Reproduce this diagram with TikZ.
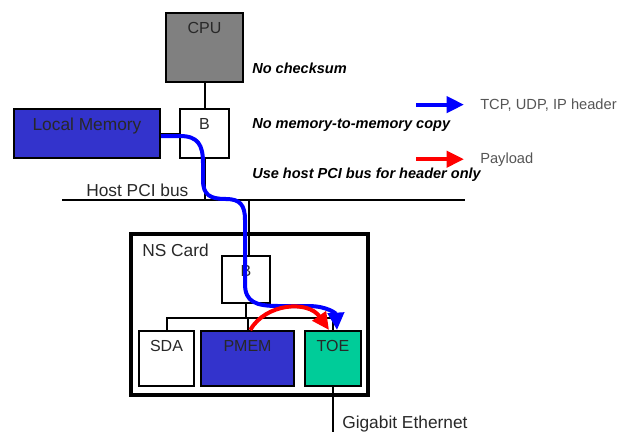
\documentclass[tikz,border=0pt]{standalone}
\usepackage{fontspec}
\setmainfont{Liberation Sans}
\usetikzlibrary{arrows.meta}
\definecolor{gris}{RGB}{128,128,128}
\definecolor{azul}{RGB}{51,51,204}
\definecolor{verde}{RGB}{0,204,153}
\definecolor{tinta}{RGB}{40,40,40}
\definecolor{leyenda}{RGB}{85,85,85}
\tikzset{
  caja/.style={draw=black, line width=1.5pt, inner sep=0pt},
  tit/.style={anchor=north, inner sep=0pt, yshift=-7.5pt, text=tinta, font=\fontsize{12}{14}\selectfont},
  cable/.style={line width=1.5pt},
  nota/.style={anchor=base west, inner sep=0pt, font=\fontsize{10.9}{12}\selectfont\bfseries\itshape},
  etq/.style={anchor=base west, inner sep=0pt, text=tinta, font=\fontsize{13}{15}\selectfont},
  ley/.style={anchor=base west, inner sep=0pt, text=leyenda, font=\fontsize{11}{13}\selectfont},
  cab/.style={-{Triangle[length=13pt,width=12pt]}, line width=3pt, blue},
  carga/.style={-{Triangle[length=13pt,width=12pt]}, line width=3pt, red},
}
\begin{document}
\begin{tikzpicture}[x=0.75pt, y=-0.75pt]
  \useasboundingbox (0,0) rectangle (634,432);
  % host side
  \node[caja, fill=gris, minimum width=57.75pt, minimum height=51.75pt,
        label={[tit]north:CPU}] (cpu) at (204.5,47.5) {};
  \node[caja, fill=white, minimum width=36.75pt, minimum height=36.75pt,
        label={[tit]north:B}] (hb) at (204.5,133.5) {};
  \node[caja, fill=azul, minimum width=109.5pt, minimum height=36.75pt,
        label={[tit, font=\fontsize{13}{15}\selectfont]north:Local Memory}] (lm) at (87,133.5) {};
  \coordinate (busL) at (62,200);
  \coordinate (busR) at (465,200);
  \coordinate (tap) at (249,200);
  \node[etq] (buslbl) at (86,196.5) {Host PCI bus};
  % NS card
  \node[caja, line width=3.5pt, minimum width=177.75pt, minimum height=120.75pt] (ns) at (249.5,314.5) {};
  \node[etq] (nslbl) at (142,256) {NS Card};
  \node[caja, fill=white, minimum width=36pt, minimum height=35.25pt,
        label={[tit]north:B}] (nb) at (246,279.5) {};
  \node[caja, fill=white, minimum width=41.25pt, minimum height=41.25pt,
        label={[tit]north:SDA}] (sda) at (166.5,358.5) {};
  \node[caja, fill=azul, minimum width=69.75pt, minimum height=41.25pt,
        label={[tit]north:PMEM}] (pm) at (247.5,358.5) {};
  \node[caja, fill=verde, minimum width=42pt, minimum height=41.25pt,
        label={[tit]north:TOE}] (toe) at (333,358.5) {};
  \coordinate (jn) at (246,318);
  \coordinate (eth) at (333,432);
  \node[etq] (ethlbl) at (342,428) {Gigabit Ethernet};
  % notes
  \node[nota] (n1) at (252,73) {No checksum};
  \node[nota] (n2) at (252,128) {No memory-to-memory copy};
  \node[nota] (n3) at (252,178) {Use host PCI bus for header only};
  % legend
  \node[ley] (lhdr) at (480,109) {TCP, UDP, IP header};
  \node[ley] (lpay) at (480,163) {Payload};
  % wiring
  \draw[cable] (cpu.south) -- (hb.north);
  \draw[cable] (lm.east) -- (hb.west);
  \draw[cable] (hb.south) -- (hb.south |- busL);
  \draw[cable] (busL) -- (busR);
  \draw[cable] (tap) -- (tap |- nb.north);
  \draw[cable] (nb.south) -- (nb.south |- jn);
  \draw[cable] (sda.north) -- (sda.north |- jn) -- (toe.north |- jn) -- (toe.north);
  \draw[cable] (pm.north |- jn) -- (pm.north);
  \draw[cable] (toe.south) -- (eth);
  % data paths
  \draw[cab] ([yshift=-2pt]lm.east) -- (180,136) .. controls (198,136) and (203,145) .. (203,163)
    -- (203,180) .. controls (203,195) and (210,199) .. (226,199)
    .. controls (240,199) and (245,205) .. (245,220) -- (245,284)
    .. controls (245,302) and (256,306) .. (278,306) -- (308,306)
    .. controls (328,306) and (336,314) .. ([xshift=3pt]toe.north);
  \draw[carga] ([xshift=2pt]pm.north) .. controls (266,303) and (308,300) .. ([xshift=-3pt]toe.north);
  \draw[cab] ([xshift=-48pt]lhdr.west) -- ([xshift=-12pt]lhdr.west);
  \draw[carga] ([xshift=-48pt]lpay.west) -- ([xshift=-12pt]lpay.west);
\end{tikzpicture}
\end{document}
